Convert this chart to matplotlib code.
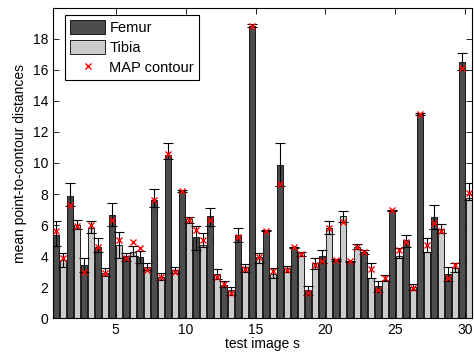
"""Mean point-to-contour distances per test image, femur vs tibia."""

import numpy as np
import matplotlib
matplotlib.use("Agg")
import matplotlib.pyplot as plt

plt.rcParams["font.family"] = ["Liberation Sans", "DejaVu Sans"]

images = np.arange(1, 31)

femur_mean = [5.38, 7.89, 3.44, 4.62, 6.67, 3.98, 3.94, 7.63, 10.54, 8.17,
              5.23, 6.56, 2.15, 5.38, 18.82, 5.63, 9.89, 4.56, 1.83, 4.02,
              3.76, 3.66, 4.30, 2.09, 6.95, 5.01, 13.16, 6.52, 2.86, 16.52]
femur_lo = [4.67, 7.20, 3.00, 4.30, 5.91, 3.66, 3.55, 7.16, 10.26, 8.10,
            4.41, 5.96, 2.00, 4.90, 18.75, 5.60, 8.49, 4.50, 1.50, 3.55,
            3.72, 3.62, 4.15, 1.72, 6.90, 4.58, 13.10, 5.76, 2.43, 16.00]
femur_hi = [6.28, 8.71, 3.91, 5.16, 7.42, 4.19, 4.34, 8.32, 11.29, 8.24,
            5.96, 7.10, 2.37, 5.81, 18.92, 5.68, 11.29, 4.62, 2.09, 4.41,
            3.80, 3.70, 4.41, 2.41, 7.00, 5.38, 13.20, 7.27, 3.29, 17.05]
femur_map = [5.63, 7.31, 2.95, 4.58, 6.34, 3.87, 4.52, 7.63, 10.60, 8.17,
             5.70, 6.30, 2.19, 5.23, 18.82, 5.63, 8.65, 4.62, 1.66, 3.70,
             3.76, 3.66, 4.30, 1.83, 6.95, 4.90, 13.16, 6.13, 2.58, 16.13]

tibia_mean = [3.76, 6.02, 5.81, 2.90, 4.73, 4.30, 3.33, 2.69, 3.12, 6.39,
              4.73, 2.86, 1.83, 3.33, 3.94, 2.86, 3.27, 4.19, 3.55, 5.81,
              6.56, 4.62, 2.58, 2.47, 3.98, 2.00, 4.30, 5.74, 3.22, 7.76]
tibia_lo = [3.33, 5.74, 5.48, 2.73, 3.87, 3.98, 3.12, 2.47, 2.90, 6.13,
            4.62, 2.52, 1.50, 3.01, 3.55, 2.58, 3.01, 4.02, 3.16, 5.42,
            6.17, 4.47, 2.58, 2.37, 3.87, 1.83, 4.30, 5.48, 3.01, 7.60]
tibia_hi = [4.19, 6.30, 6.28, 3.22, 5.55, 4.67, 3.55, 2.90, 3.33, 6.52,
            5.48, 3.16, 2.00, 3.48, 4.19, 3.22, 3.38, 4.30, 3.91, 6.24,
            6.88, 4.77, 3.59, 2.77, 4.52, 2.19, 5.16, 6.09, 3.55, 8.73]
tibia_map = [3.87, 5.96, 6.02, 2.90, 5.05, 4.90, 3.12, 2.65, 3.01, 6.34,
             5.05, 2.65, 1.66, 3.20, 3.94, 3.05, 3.12, 4.15, 3.40, 5.81,
             6.17, 4.58, 3.16, 2.62, 4.37, 1.94, 4.73, 5.59, 3.40, 8.08]

fig = plt.figure(figsize=(4.74, 3.54), dpi=100)
ax = fig.add_axes([0.1118, 0.1008, 0.884, 0.8757])

w = 0.46
off = 0.24
groups = [
    (femur_mean, femur_lo, femur_hi, femur_map, -off, "#4d4d4d", "Femur"),
    (tibia_mean, tibia_lo, tibia_hi, tibia_map, off, "#cccccc", "Tibia"),
]
handles = []
for mean, lo, hi, mp, dx, color, label in groups:
    mean = np.array(mean)
    xs = images + dx
    bars = ax.bar(xs, mean, width=w, color=color, edgecolor="black",
                  linewidth=0.6, label=label, zorder=2)
    handles.append(bars)
    yerr = np.vstack([mean - np.array(lo), np.array(hi) - mean])
    ax.errorbar(xs, mean, yerr=yerr, fmt="none", ecolor="black",
                elinewidth=0.8, capsize=3.5, capthick=0.8, zorder=3)
    line, = ax.plot(xs, mp, linestyle="none", marker="x", color="red",
                    markersize=5, markeredgewidth=1.0, zorder=4,
                    label="MAP contour")
handles.append(line)

ax.set_xlim(0.53, 30.47)
ax.set_ylim(0, 19.95)
ax.set_xticks(range(5, 31, 5))
ax.set_yticks(range(0, 19, 2))
ax.tick_params(direction="in", top=True, right=True, labelsize=10,
               length=4, width=0.6)
for s in ax.spines.values():
    s.set_linewidth(0.8)

ax.set_xlabel("test image s", fontsize=10, labelpad=0)
ax.set_ylabel("mean point-to-contour distances", fontsize=10, labelpad=4)

leg = ax.legend(handles=handles, labels=["Femur", "Tibia", "MAP contour"],
                loc="upper left", bbox_to_anchor=(0.0286, 0.978),
                fontsize=10.5, frameon=True, fancybox=False,
                edgecolor="black", framealpha=1, handlelength=2.4,
                handleheight=1.1, handletextpad=0.3, borderpad=0.35,
                labelspacing=0.35, borderaxespad=0)
leg.get_frame().set_linewidth(0.8)

plt.savefig("out.png", dpi=100, facecolor="white")
plt.close()
